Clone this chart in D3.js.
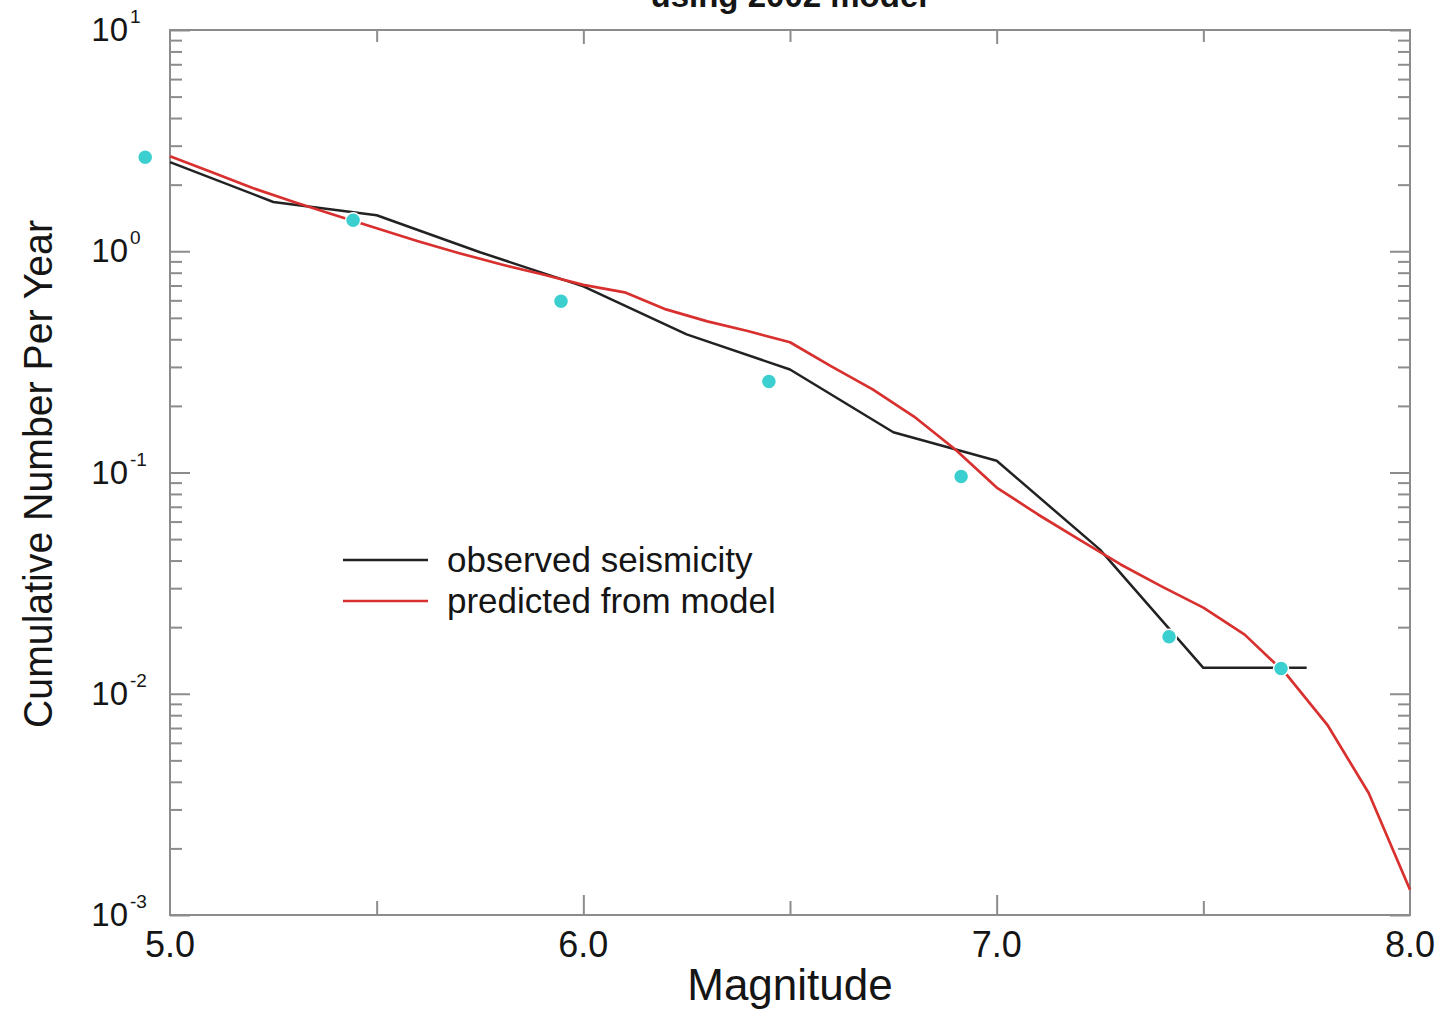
<!DOCTYPE html>
<html>
<head>
<meta charset="utf-8">
<script src="https://cdn.jsdelivr.net/npm/d3@7/dist/d3.min.js"></script>
<style>
body { margin: 0; background: #fff; }
svg text { font-family: "Liberation Sans", Arial, Helvetica, sans-serif; fill: #151515; }
</style>
</head>
<body>
<div id="viz"></div>
<script>
// Cumulative number of events per year vs magnitude (log scale)

var titleText = "using 2002 model";
var xLabel = "Magnitude";
var yLabel = "Cumulative Number Per Year";
var seriesNames = ["observed seismicity", "predicted from model"];

// observed seismicity (black)
var obsMag  = [5.0, 5.25, 5.5, 5.75, 6.0, 6.25, 6.5, 6.75, 7.0, 7.25, 7.5, 7.75];
var obsRate = [2.53, 1.67, 1.455, 0.99, 0.694, 0.421, 0.292, 0.152, 0.113, 0.0448, 0.0131, 0.0131];

// predicted from model (red)
var predMag  = [5.0, 5.1, 5.2, 5.3, 5.4, 5.5, 5.6, 5.7, 5.8, 5.9, 6.0, 6.1, 6.2, 6.3, 6.4, 6.5,
                6.6, 6.7, 6.8, 6.9, 7.0, 7.1, 7.2, 7.3, 7.4, 7.5, 7.6, 7.7, 7.8, 7.9, 8.0];
var predRate = [2.69, 2.28, 1.93, 1.67, 1.455, 1.27, 1.11, 0.98, 0.873, 0.787, 0.705, 0.652, 0.546, 0.482, 0.435, 0.388,
                0.302, 0.2375, 0.179, 0.127, 0.0855, 0.0646, 0.0497, 0.0384, 0.0305, 0.0245, 0.0185, 0.0123, 0.00724, 0.00356, 0.0013];

// cyan markers
var dotMag  = [4.94, 5.443, 5.946, 6.449, 6.914, 7.417, 7.688];
var dotRate = [2.66, 1.38, 0.594, 0.258, 0.096, 0.0181, 0.0130];

var xMajorTicks = [6.0, 7.0];
var xMinorTicks = [5.5, 6.5, 7.5];
var xTickLabels = ["5.0", "6.0", "7.0", "8.0"];
var xTickLabelValues = [5.0, 6.0, 7.0, 8.0];
var yExponents = [-3, -2, -1, 0, 1];

var W = 1445, H = 1010;
var L = 170, R = 1410, T = 30, B = 915;
var gray = "#8c8c8c";

var svg = d3.select("#viz").append("svg")
    .attr("width", W)
    .attr("height", H);

var x = d3.scaleLinear().domain([5, 8]).range([L, R]);
var y = d3.scaleLog().domain([1e-3, 10]).range([B, T]);

var yMajor = yExponents.map(function(e) { return Math.pow(10, e); });
var yMinor = [];
yExponents.slice(0, -1).forEach(function(e) {
    for (var k = 2; k <= 9; k++) yMinor.push(k * Math.pow(10, e));
});

function tickAxis(axis, tr) {
    var g = svg.append("g").attr("transform", tr).call(axis);
    g.select(".domain").remove();
    g.selectAll("line").attr("stroke", gray).attr("stroke-width", 2);
    g.selectAll("text").remove();
    return g;
}

// y ticks, left and right, pointing inwards
tickAxis(d3.axisLeft(y).tickValues(yMajor).tickSize(-20), "translate(" + L + ",0)");
tickAxis(d3.axisLeft(y).tickValues(yMinor).tickSize(-12), "translate(" + L + ",0)");
tickAxis(d3.axisRight(y).tickValues(yMajor).tickSize(-20), "translate(" + R + ",0)");
tickAxis(d3.axisRight(y).tickValues(yMinor).tickSize(-12), "translate(" + R + ",0)");
// x ticks, bottom and top
tickAxis(d3.axisBottom(x).tickValues(xMajorTicks).tickSize(-20), "translate(0," + B + ")");
tickAxis(d3.axisBottom(x).tickValues(xMinorTicks).tickSize(-14), "translate(0," + B + ")");
tickAxis(d3.axisTop(x).tickValues(xMajorTicks).tickSize(-14), "translate(0," + T + ")");
tickAxis(d3.axisTop(x).tickValues(xMinorTicks).tickSize(-12), "translate(0," + T + ")");

// frame
svg.append("rect")
    .attr("x", L).attr("y", T)
    .attr("width", R - L).attr("height", B - T)
    .attr("fill", "none")
    .attr("stroke", gray)
    .attr("stroke-width", 2);

// x tick labels
svg.append("g").selectAll("text")
    .data(xTickLabelValues)
    .enter().append("text")
    .attr("x", function(d) { return x(d); })
    .attr("y", 957)
    .attr("text-anchor", "middle")
    .attr("font-size", 36)
    .text(function(d, i) { return xTickLabels[i]; });

// y tick labels 10^n
var yl = svg.append("g").selectAll("g")
    .data(yExponents)
    .enter().append("g");
yl.append("text")
    .attr("x", 128)
    .attr("y", function(d) { return y(Math.pow(10, d)) + 11; })
    .attr("text-anchor", "end")
    .attr("font-size", 33)
    .text("10");
yl.append("text")
    .attr("x", 130)
    .attr("y", function(d) { return y(Math.pow(10, d)) - 7; })
    .attr("font-size", 19)
    .text(function(d) { return String(d); });

// axis titles
svg.append("text")
    .attr("x", 790).attr("y", 1000)
    .attr("text-anchor", "middle")
    .attr("font-size", 44)
    .text(xLabel);
svg.append("text")
    .attr("transform", "translate(52,474) rotate(-90)")
    .attr("text-anchor", "middle")
    .attr("font-size", 41)
    .attr("textLength", 508)
    .attr("lengthAdjust", "spacingAndGlyphs")
    .text(yLabel);
svg.append("text")
    .attr("x", 789).attr("y", 7)
    .attr("text-anchor", "middle")
    .attr("font-size", 33)
    .attr("font-weight", "bold")
    .text(titleText);

// curves
var line = d3.line()
    .x(function(d) { return x(d[0]); })
    .y(function(d) { return y(d[1]); });

svg.append("path")
    .datum(d3.zip(obsMag, obsRate))
    .attr("d", line)
    .attr("fill", "none")
    .attr("stroke", "#222")
    .attr("stroke-width", 2.5)
    .attr("stroke-linejoin", "round");

svg.append("path")
    .datum(d3.zip(predMag, predRate))
    .attr("d", line)
    .attr("fill", "none")
    .attr("stroke", "#d8302e")
    .attr("stroke-width", 2.7)
    .attr("stroke-linejoin", "round");

// markers
svg.append("g").selectAll("circle")
    .data(d3.zip(dotMag, dotRate))
    .enter().append("circle")
    .attr("cx", function(d) { return x(d[0]); })
    .attr("cy", function(d) { return y(d[1]); })
    .attr("r", 7.5)
    .attr("fill", "#3ccfcf")
    .attr("stroke", "#fff")
    .attr("stroke-width", 1.5);

// legend
var legendColors = ["#222", "#d8302e"];
var lg = svg.append("g").selectAll("g")
    .data(seriesNames)
    .enter().append("g")
    .attr("transform", function(d, i) { return "translate(0," + (560 + 41 * i) + ")"; });
lg.append("line")
    .attr("x1", 343).attr("x2", 428)
    .attr("y1", 0).attr("y2", 0)
    .attr("stroke", function(d, i) { return legendColors[i]; })
    .attr("stroke-width", 2.4);
lg.append("text")
    .attr("x", 447).attr("y", 12)
    .attr("font-size", 35)
    .text(function(d) { return d; });
</script>
</body>
</html>
